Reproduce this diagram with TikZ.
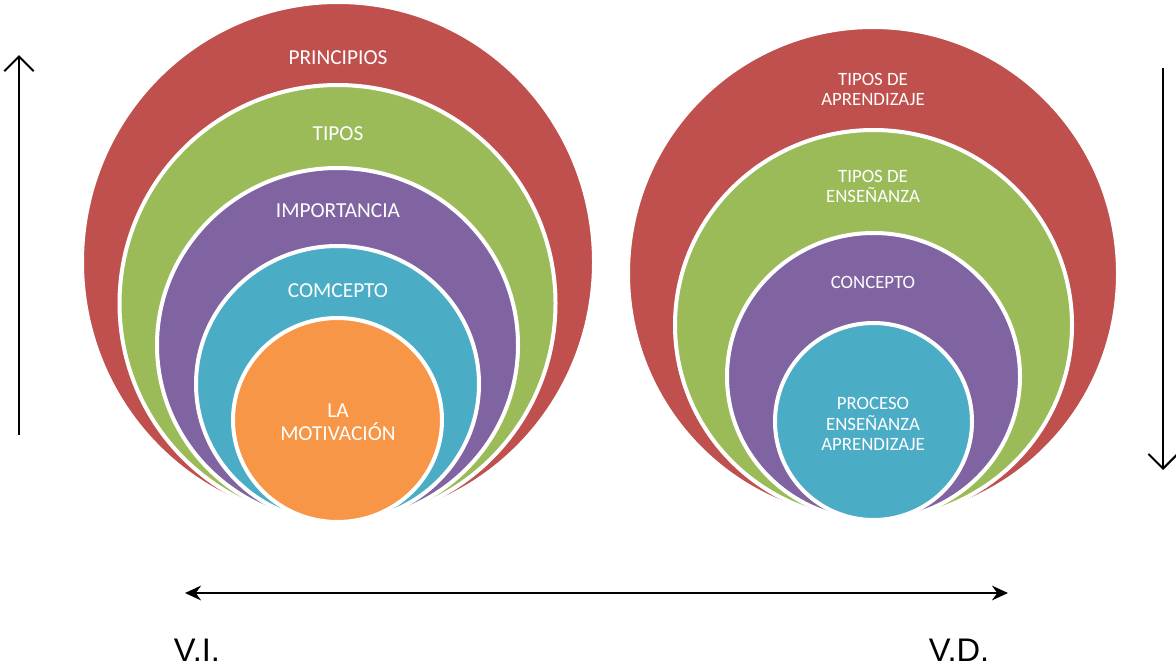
\documentclass[tikz,border=0pt]{standalone}
\usepackage{fontspec}
\setmainfont{Carlito}
\newfontfamily\arialfont{Liberation Sans}
\usetikzlibrary{arrows.meta}
\definecolor{cred}{HTML}{C0504D}
\definecolor{cgreen}{HTML}{9BBB59}
\definecolor{cpurple}{HTML}{8064A2}
\definecolor{ccyan}{HTML}{4BACC6}
\definecolor{corange}{HTML}{F79646}
\begin{document}
\begin{tikzpicture}[x=0.75pt,y=-0.75pt,
  ring/.style={draw=white,line width=3pt},
  lbl/.style={text=white,align=center,inner sep=0pt,font=\fontsize{16}{17.25}\selectfont},
  rlbl/.style={text=white,align=center,inner sep=0pt,font=\fontsize{14.1}{15.4}\selectfont},
  axis/.style={line width=1.5pt},
  vtip/.style={-{Straight Barb[length=11pt,width=22pt,line width=1.5pt]}},
  varlbl/.style={inner sep=0pt,font=\arialfont\fontsize{24.5}{28}\selectfont}]
\useasboundingbox (0,0) rectangle (1176,668);
% left target
\fill[cred,ring] (338,262) ellipse [x radius=192pt, y radius=195pt];
\fill[cgreen,ring] (337.5,303.5) ellipse [x radius=163.5pt, y radius=163.875pt];
\fill[cpurple,ring] (337.5,345) ellipse [x radius=135.375pt, y radius=132.75pt];
\fill[ccyan,ring] (337.5,384) ellipse [x radius=106.125pt, y radius=103.5pt];
\fill[corange,ring] (337.5,420) ellipse [x radius=78.375pt, y radius=76.5pt];
\node[lbl] (l1) at (338,58) {PRINCIPIOS};
\node[lbl] (l2) at (338,134) {TIPOS};
\node[lbl] (l3) at (338,211) {IMPORTANCIA};
\node[lbl] (l4) at (338,291) {COMCEPTO};
\node[lbl] (l5) at (338,422) {LA\\MOTIVACIÓN};
% right target
\fill[cred,ring] (873,273.5) ellipse [x radius=183.75pt, y radius=184.875pt];
\fill[cgreen,ring] (873.5,325) ellipse [x radius=148.875pt, y radius=146.25pt];
\fill[cpurple,ring] (873.5,376.5) ellipse [x radius=109.875pt, y radius=107.625pt];
\fill[ccyan,ring] (873.5,421.5) ellipse [x radius=73.875pt, y radius=73.875pt];
\node[rlbl] (r1) at (873,89.5) {TIPOS DE\\APRENDIZAJE};
\node[rlbl] (r2) at (873,186.5) {TIPOS DE\\ENSEÑANZA};
\node[rlbl] (r3) at (873,282) {CONCEPTO};
\node[rlbl] (r4) at (873,424) {PROCESO\\ENSEÑANZA\\APRENDIZAJE};
% arrows
\coordinate (vl0) at (19,435);
\coordinate (vl1) at (19,55);
\coordinate (vr0) at (1163,68);
\coordinate (vr1) at (1163,470);
\coordinate (h0) at (185,593);
\coordinate (h1) at (1008,593);
\draw[axis,vtip] (vl0) -- (vl1);
\draw[axis,vtip] (vr0) -- (vr1);
\draw[axis,{Stealth[length=12pt,width=11pt]}-{Stealth[length=12pt,width=11pt]}] (h0) -- (h1);
\node[varlbl] (vi) at (197,650) {V.I.};
\node[varlbl] (vd) at (959,650) {V.D.};
\end{tikzpicture}
\end{document}
